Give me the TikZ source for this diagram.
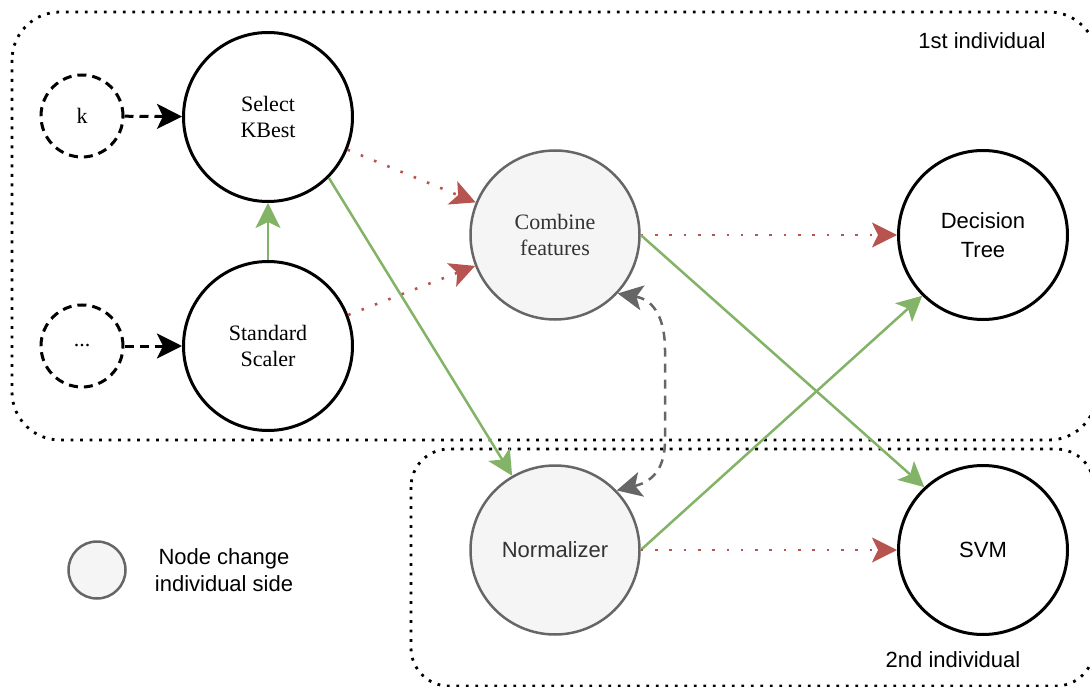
\documentclass[tikz,border=0pt]{standalone}
\usepackage{fontspec}
\setmainfont{Liberation Serif}
\newfontfamily\sansf{Liberation Sans}
\usetikzlibrary{arrows.meta}
\definecolor{redE}{HTML}{B85450}
\definecolor{greenE}{HTML}{82B366}
\definecolor{greyE}{HTML}{666666}
\definecolor{fillG}{HTML}{F5F5F5}
\definecolor{txtG}{HTML}{333333}
\begin{document}
\begin{tikzpicture}[x=1pt,y=-1pt,
  bigtip/.tip={Stealth[length=25pt,width=25pt,inset=6pt]},
  bigc/.style={circle, draw=black, line width=3pt, fill=white, minimum size=169pt,
    inner sep=0pt, align=center, font=\fontsize{22}{25.5}\selectfont},
  sansc/.style={bigc, font=\sansf\fontsize{22}{29}\selectfont},
  greyc/.style={bigc, draw=greyE, fill=fillG, line width=2.5pt, text=txtG},
  dashc/.style={circle, draw=black, line width=3pt, dash pattern=on 9pt off 6pt,
    minimum size=82pt, inner sep=0pt, font=\fontsize{22}{25}\selectfont},
  container/.style={draw=black, line width=2.8pt, dash pattern=on 2.8pt off 6.7pt},
  label/.style={font=\sansf\fontsize{22}{26}\selectfont, align=center},
  blackdash/.style={draw=black, line width=3pt, dash pattern=on 9pt off 6pt, -bigtip},
  greenline/.style={draw=greenE, line width=2.5pt, -bigtip},
  reddot/.style={draw=redE, line width=2.6pt, dash pattern=on 2.6pt off 11.7pt, -bigtip},
  greydash/.style={draw=greyE, line width=2.5pt, dash pattern=on 9pt off 7pt, bigtip-bigtip}
]
\useasboundingbox (0,0) rectangle (1090,687);
\clip (0,0) rectangle (1090,687);

% containers
\draw[container, rounded corners=48pt] (12,12) rectangle (1097,440);
\draw[container, rounded corners=38pt] (411,449) rectangle (1094,686);
\node[label] (lab1) at (982,41) {1st individual};
\node[label] (lab2) at (953,660) {2nd individual};

% nodes
\node[dashc] (k) at (82,116) {k};
\node[dashc] (dots) at (82,346) {...};
\node[bigc] (sel) at (268,117) {Select\\KBest};
\node[bigc] (std) at (268,346) {Standard\\Scaler};
\node[greyc] (comb) at (555,235) {Combine\\features};
\node[greyc, font=\sansf\fontsize{22}{26}\selectfont] (norm) at (555,550) {Normalizer};
\node[sansc] (dt) at (983,235) {Decision\\Tree};
\node[sansc] (svm) at (983,550) {SVM};

% legend
\node[circle, draw=greyE, fill=fillG, line width=2.5pt, minimum size=57pt, inner sep=0pt] (leg) at (97,570) {};
\node[label, font=\sansf\fontsize{22}{26.5}\selectfont] (legtxt) at (224,570) {Node change\\individual side};

% edges
\draw[blackdash] (k) -- (sel);
\draw[blackdash] (dots) -- (std);
\draw[greenline] (std) -- (sel);
\draw[reddot] (sel) -- (comb);
\draw[reddot] (std) -- (comb);
\draw[greenline] (sel.-45) -- (norm.120);
\draw[reddot] (comb) -- (dt);
\draw[greenline] (comb.east) -- (svm.133);
\draw[greenline] (norm.east) -- (dt.225);
\draw[reddot] (norm) -- (svm);
\draw[greydash] (comb.-43) .. controls (655,300) and (665,320) .. (665,350)
  -- (665,440) .. controls (665,466) and (655,481) .. (norm.44);
\end{tikzpicture}
\end{document}
